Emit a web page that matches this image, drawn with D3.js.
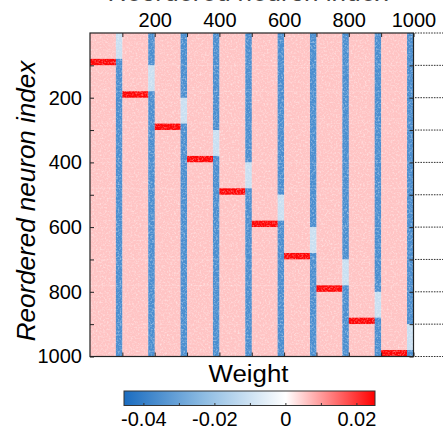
<!DOCTYPE html>
<html>
<head>
<meta charset="utf-8">
<script src="https://cdn.jsdelivr.net/npm/d3@7"></script>
<style>
  html, body { margin: 0; padding: 0; background: #fff; }
  svg { display: block; font-family: "Liberation Sans", Arial, Helvetica, sans-serif; }
</style>
</head>
<body>
<svg id="chart" width="443" height="432"></svg>
<script>
// ---------------- data ----------------
const neuronCount = 1000;
const clusterNames = ["C1","C2","C3","C4","C5","C6","C7","C8","C9","C10"];
const clusterStart = [0, 100, 200, 300, 400, 500, 600, 700, 800, 900];
const excCount = [80, 80, 80, 80, 80, 80, 80, 80, 80, 80];
const inhCount = [20, 20, 20, 20, 20, 20, 20, 20, 20, 20];
// block weights: E->E (any), E->I within cluster, I->E within cluster, I->other
const blockTypes = ["EE", "EI_in", "IE_in", "I_out"];
const blockWeights = [0.0058, 0.0245, -0.011, -0.036];
const axisTickValues = [100, 200, 300, 400, 500, 600, 700, 800, 900, 1000];
const axisTickLabels = [200, 400, 600, 800, 1000];
const colorbarTicks = [-0.04, -0.03, -0.02, -0.01, 0, 0.01, 0.02];
const colorbarLabels = [-0.04, -0.02, 0, 0.02];
const colorDomain = [-0.0456, -0.0228, 0, 0.0125, 0.0251];
const colorRange = ["#1a6cc0", "#8fbde3", "#ffffff", "#ff8080", "#ff0000"];

(function () {
// ---------------- build cells ----------------
const W = Object.fromEntries(blockTypes.map((t, i) => [t, blockWeights[i]]));
const cells = [];
clusterNames.forEach((rn, r) => {
  const rE0 = clusterStart[r], rI0 = clusterStart[r] + excCount[r];
  clusterNames.forEach((cn, k) => {
    const cE0 = clusterStart[k], cI0 = clusterStart[k] + excCount[k];
    cells.push({ r0: rE0, r1: rI0, c0: cE0, c1: cI0, w: W.EE });
    cells.push({ r0: rI0, r1: rI0 + inhCount[r], c0: cE0, c1: cI0, w: r === k ? W.EI_in : W.EE });
    cells.push({ r0: rE0, r1: rI0, c0: cI0, c1: cI0 + inhCount[k], w: r === k ? W.IE_in : W.I_out });
    cells.push({ r0: rI0, r1: rI0 + inhCount[r], c0: cI0, c1: cI0 + inhCount[k], w: W.I_out });
  });
});

// ---------------- layout ----------------
const svg = d3.select("#chart");
const pL = 90, pR = 413.5, pT = 33, pB = 356.5;
const x = d3.scaleLinear().domain([0, neuronCount]).range([pL, pR]);
const y = d3.scaleLinear().domain([0, neuronCount]).range([pT, pB]);
const color = d3.scaleLinear().domain(colorDomain).range(colorRange).clamp(true);

const defs = svg.append("defs");
const f = defs.append("filter").attr("id", "speckle")
  .attr("x", 0).attr("y", 0).attr("width", "100%").attr("height", "100%");
f.append("feTurbulence").attr("type", "fractalNoise").attr("baseFrequency", 0.55)
  .attr("numOctaves", 2).attr("seed", 7).attr("result", "n");
f.append("feColorMatrix").attr("type", "matrix")
  .attr("values", "0 0 0 0 1  0 0 0 0 1  0 0 0 0 1  2.2 0 0 0 -1.0");
defs.append("clipPath").attr("id", "plotclip").append("rect")
  .attr("x", pL).attr("y", pT).attr("width", pR - pL).attr("height", pB - pT);

// heatmap
const heat = svg.append("g").attr("clip-path", "url(#plotclip)");
heat.selectAll("rect.cell").data(cells).join("rect")
  .attr("class", "cell")
  .attr("x", d => x(d.c0))
  .attr("y", d => y(d.r0))
  .attr("width", d => x(d.c1) - x(d.c0) + 0.3)
  .attr("height", d => y(d.r1) - y(d.r0) + 0.3)
  .attr("fill", d => color(d.w));
heat.append("rect")
  .attr("x", pL).attr("y", pT).attr("width", pR - pL).attr("height", pB - pT)
  .attr("fill", "#fff").attr("filter", "url(#speckle)").attr("opacity", 0.5);

// axes (inward ticks)
const tickFont = 20;
const axTop = svg.append("g").attr("transform", `translate(0,${pT})`)
  .call(d3.axisTop(x).tickValues(axisTickValues).tickSize(-4).tickPadding(6)
    .tickFormat(d => axisTickLabels.includes(d) ? d : ""));
const axLeft = svg.append("g").attr("transform", `translate(${pL},0)`)
  .call(d3.axisLeft(y).tickValues(axisTickValues).tickSize(-4).tickPadding(8)
    .tickFormat(d => axisTickLabels.includes(d) ? d : ""));
const axBottom = svg.append("g").attr("transform", `translate(0,${pB})`)
  .call(d3.axisBottom(x).tickValues(axisTickValues).tickSize(-4).tickFormat(""));
const axRight = svg.append("g").attr("transform", `translate(${pR},0)`)
  .call(d3.axisRight(y).tickValues(axisTickValues).tickSize(-4).tickFormat(""));
[axTop, axLeft, axBottom, axRight].forEach(g => {
  g.select(".domain").remove();
  g.selectAll(".tick line").attr("stroke", "#222").attr("stroke-width", 1);
  g.selectAll(".tick text").attr("font-size", tickFont).attr("fill", "#000")
    .attr("font-family", '"Liberation Sans", Arial, sans-serif');
});
axTop.selectAll(".tick text").attr("dy", "0");
svg.append("rect").attr("x", pL).attr("y", pT)
  .attr("width", pR - pL).attr("height", pB - pT)
  .attr("fill", "none").attr("stroke", "#222").attr("stroke-width", 1.2);

// dotted guide lines on the right
svg.append("g").selectAll("line").data([0].concat(axisTickValues)).join("line")
  .attr("x1", pR + 1.5).attr("x2", 443)
  .attr("y1", d => y(d)).attr("y2", d => y(d))
  .attr("stroke", "#333").attr("stroke-width", 1).attr("stroke-dasharray", "1.6,1.1");

// axis titles
svg.append("text").attr("x", 249).attr("y", 1)
  .attr("text-anchor", "middle").attr("font-size", 26).attr("font-style", "italic")
  .attr("fill", "#444").text("Reordered neuron index");
svg.append("text").attr("transform", "translate(35,201) rotate(-90)")
  .attr("text-anchor", "middle").attr("font-size", 26).attr("font-style", "italic")
  .attr("fill", "#000").text("Reordered neuron index");
svg.append("text").attr("x", 248.5).attr("y", 382)
  .attr("text-anchor", "middle").attr("font-size", 23)
  .attr("textLength", 80).attr("lengthAdjust", "spacingAndGlyphs")
  .attr("fill", "#000").text("Weight");

// colorbar
const cbX = d3.scaleLinear().domain([colorDomain[0], colorDomain[4]]).range([124, 375]);
const grad = defs.append("linearGradient").attr("id", "cbgrad")
  .attr("x1", "0%").attr("x2", "100%").attr("y1", "0%").attr("y2", "0%");
colorDomain.forEach((v, i) => {
  grad.append("stop")
    .attr("offset", (cbX(v) - 124) / (375 - 124))
    .attr("stop-color", colorRange[i]);
});
const cbTop = 391, cbH = 14.5;
svg.append("rect").attr("x", 124).attr("y", cbTop).attr("width", 251).attr("height", cbH)
  .attr("fill", "url(#cbgrad)").attr("stroke", "#333").attr("stroke-width", 1);
svg.append("g").selectAll("line").data(colorbarTicks).join("line")
  .attr("x1", d => cbX(d)).attr("x2", d => cbX(d))
  .attr("y1", cbTop + cbH).attr("y2", cbTop + cbH - 2.5)
  .attr("stroke", "#333").attr("stroke-width", 1);
svg.append("g").selectAll("text").data(colorbarLabels).join("text")
  .attr("x", d => cbX(d)).attr("y", 426)
  .attr("text-anchor", "middle").attr("font-size", 20).attr("fill", "#000")
  .text(d => d === 0 ? "0" : d3.format(".2f")(d).replace("−", "-"));
})();
</script>
</body>
</html>
